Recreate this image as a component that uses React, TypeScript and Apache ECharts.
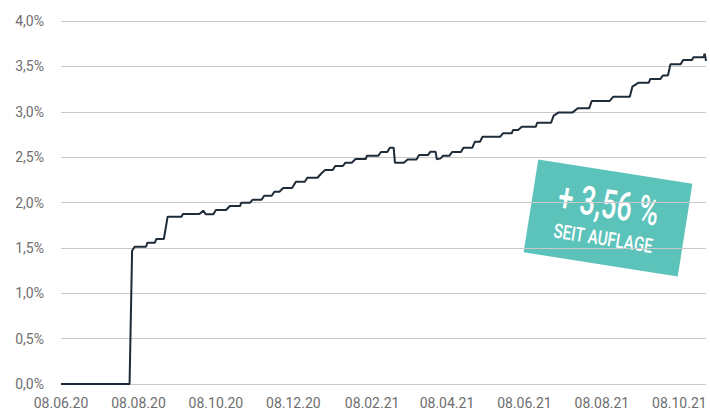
import React, { useEffect, useRef } from "react";
import * as echarts from "echarts";

const dates: string[] = [
  "2020-06-08", "2020-08-01", "2020-08-03", "2020-08-05", "2020-08-14", "2020-08-15", "2020-08-21", "2020-08-22",
  "2020-08-28", "2020-08-31", "2020-09-11", "2020-09-12", "2020-09-25", "2020-09-28", "2020-09-30", "2020-10-06",
  "2020-10-08", "2020-10-16", "2020-10-19", "2020-10-27", "2020-10-28", "2020-11-04", "2020-11-06", "2020-11-13",
  "2020-11-15", "2020-11-21", "2020-11-23", "2020-11-27", "2020-11-30", "2020-12-07", "2020-12-10", "2020-12-17",
  "2020-12-19", "2020-12-27", "2020-12-30", "2021-01-02", "2021-01-08", "2021-01-10", "2021-01-16", "2021-01-18",
  "2021-01-23", "2021-01-26", "2021-02-03", "2021-02-04", "2021-02-13", "2021-02-15", "2021-02-20", "2021-02-22",
  "2021-02-25", "2021-02-26", "2021-03-05", "2021-03-08", "2021-03-15", "2021-03-17", "2021-03-24", "2021-03-26",
  "2021-03-30", "2021-03-31", "2021-04-03", "2021-04-05", "2021-04-10", "2021-04-12", "2021-04-19", "2021-04-21",
  "2021-04-28", "2021-04-30", "2021-05-04", "2021-05-06", "2021-05-20", "2021-05-22", "2021-05-29", "2021-05-30",
  "2021-06-03", "2021-06-06", "2021-06-17", "2021-06-18", "2021-06-29", "2021-07-01", "2021-07-05", "2021-07-16",
  "2021-07-20", "2021-07-29", "2021-07-31", "2021-08-14", "2021-08-17", "2021-08-30", "2021-09-01", "2021-09-06",
  "2021-09-14", "2021-09-15", "2021-09-23", "2021-09-25", "2021-09-29", "2021-10-01", "2021-10-09", "2021-10-11",
  "2021-10-18", "2021-10-19", "2021-10-27", "2021-10-28", "2021-10-29",
];

const values: number[] = [
  0, 0, 1.469, 1.513, 1.513, 1.557, 1.557, 1.598,
  1.598, 1.844, 1.844, 1.873, 1.873, 1.91, 1.87, 1.87,
  1.917, 1.917, 1.961, 1.961, 1.998, 1.998, 2.031, 2.031,
  2.075, 2.075, 2.119, 2.119, 2.16, 2.16, 2.229, 2.229,
  2.273, 2.273, 2.32, 2.358, 2.358, 2.402, 2.402, 2.439,
  2.439, 2.479, 2.479, 2.516, 2.516, 2.556, 2.556, 2.604,
  2.604, 2.439, 2.439, 2.475, 2.475, 2.523, 2.523, 2.56,
  2.56, 2.475, 2.486, 2.516, 2.516, 2.556, 2.556, 2.604,
  2.604, 2.67, 2.67, 2.725, 2.725, 2.762, 2.762, 2.799,
  2.799, 2.835, 2.835, 2.879, 2.879, 2.957, 2.993, 2.993,
  3.038, 3.038, 3.118, 3.118, 3.166, 3.166, 3.276, 3.32,
  3.32, 3.36, 3.36, 3.4, 3.4, 3.523, 3.523, 3.57,
  3.57, 3.6, 3.6, 3.64, 3.56,
];

const xTickDates: string[] = [
  "2020-06-08", "2020-08-08", "2020-10-08", "2020-12-08", "2021-02-08",
  "2021-04-08", "2021-06-08", "2021-08-08", "2021-10-08",
];

const axisStart = "2020-06-08";
const axisEnd = "2021-10-29";

const badgeValue = "+ 3,56 %";
const badgeSubtitle = "SEIT AUFLAGE";

const toTs = (s: string): number => {
  const [y, m, d] = s.split("-").map(Number);
  return Date.UTC(y, m - 1, d);
};

const pad = (n: number) => (n < 10 ? "0" + n : "" + n);

const LABEL_FONT = "Roboto, 'Liberation Sans', sans-serif";

export default function App() {
  const ref = useRef<HTMLDivElement>(null);

  useEffect(() => {
    document.body.style.margin = "0";
    if (!ref.current) return;
    const chart = echarts.init(ref.current, undefined, { renderer: "svg" });
    const seriesData = dates.map((d, i) => [toTs(d), values[i]]);
    const angle = (-9 * Math.PI) / 180;

    chart.setOption({
      animation: false,
      grid: { left: 61, right: 4, top: 21, bottom: 28 },
      xAxis: {
        type: "value",
        min: toTs(axisStart),
        max: toTs(axisEnd),
        axisLine: { show: false },
        axisTick: { show: false },
        splitLine: { show: false },
        axisLabel: {
          customValues: xTickDates.map(toTs),
          hideOverlap: false,
          margin: 12,
          color: "#6e6e6e",
          fontSize: 14,
          fontFamily: LABEL_FONT,
          formatter: (v: number) => {
            const dt = new Date(v);
            return pad(dt.getUTCDate()) + "." + pad(dt.getUTCMonth() + 1) + "." + pad(dt.getUTCFullYear() % 100);
          },
        },
      },
      yAxis: {
        type: "value",
        min: 0,
        max: 4,
        interval: 0.5,
        axisLine: { show: false },
        axisTick: { show: false },
        splitLine: { lineStyle: { color: "#c9c9c9", width: 1 } },
        axisLabel: {
          margin: 17,
          color: "#6e6e6e",
          fontSize: 14,
          fontFamily: LABEL_FONT,
          formatter: (v: number) => v.toFixed(1).replace(".", ",") + "%",
        },
      },
      series: [
        {
          type: "line",
          data: seriesData,
          showSymbol: false,
          symbol: "none",
          lineStyle: { color: "#1e2b38", width: 2 },
        },
      ],
      graphic: [
        {
          type: "group",
          x: 608,
          y: 218,
          rotation: angle,
          children: [
            {
              type: "rect",
              shape: { x: -78, y: -47, width: 156, height: 94 },
              style: { fill: "#5cc3bb" },
            },
            {
              type: "text",
              x: -1.5,
              y: -14,
              scaleX: 0.68,
              style: {
                text: badgeValue,
                fill: "#ffffff",
                fontSize: 40,
                fontFamily: "Roboto, sans-serif",
                fontWeight: 500,
                align: "center",
                verticalAlign: "middle",
              },
            },
            {
              type: "text",
              x: -1.5,
              y: 21,
              scaleX: 0.76,
              style: {
                text: badgeSubtitle,
                fill: "#ffffff",
                fontSize: 20,
                fontFamily: "Roboto, sans-serif",
                fontWeight: 500,
                align: "center",
                verticalAlign: "middle",
              },
            },
          ],
        },
      ],
    });

    return () => chart.dispose();
  }, []);

  return <div ref={ref} style={{ width: 710, height: 412, position: "absolute", left: 0, top: 0 }} />;
}
